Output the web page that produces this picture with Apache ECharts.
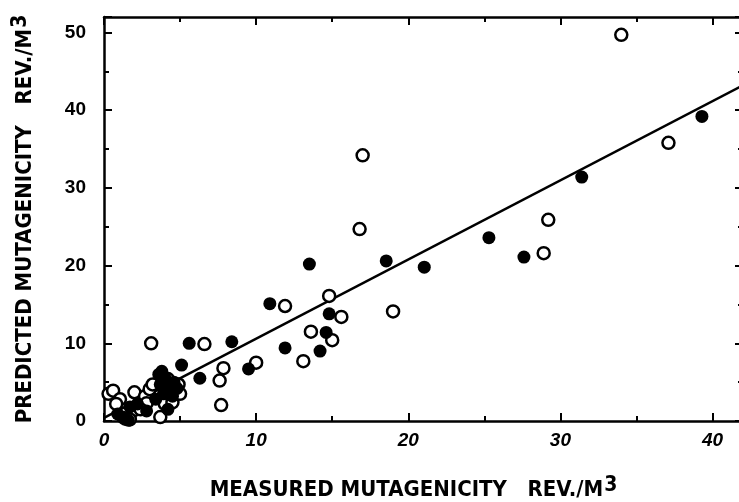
<!DOCTYPE html>
<html>
<head>
<meta charset="utf-8">
<script src="https://cdn.jsdelivr.net/npm/echarts@6/dist/echarts.min.js"></script>
<style>
html,body{margin:0;padding:0;background:#fff;}
#c{width:739px;height:502px;}
</style>
</head>
<body>
<div id="c"></div>
<script>
// Filled circles
var filledX = [39.3, 31.4, 25.3, 27.6, 21.05, 13.5, 18.55, 10.9, 14.8, 14.6, 8.4, 11.9, 14.2, 5.6, 5.1, 6.3, 9.5,
  0.9, 1.2, 1.6, 2.2, 3.6, 3.8, 4.0, 3.7, 3.9, 4.3, 3.4, 4.5, 4.2, 2.8, 1.7, 4.6, 4.8];
var filledY = [39.2, 31.4, 23.6, 21.1, 19.8, 20.2, 20.6, 15.1, 13.8, 11.4, 10.2, 9.4, 9.0, 10.0, 7.2, 5.5, 6.7,
  0.9, 0.5, 0.1, 2.2, 6.0, 6.4, 5.6, 4.7, 3.5, 4.4, 2.8, 3.2, 1.5, 1.3, 1.8, 5.0, 4.2];
// Open circles
var openX = [34.0, 37.1, 29.2, 28.9, 17.0, 16.8, 11.9, 14.8, 15.6, 19.0, 13.6, 15.0, 13.1, 6.6, 3.1, 7.85, 7.6, 7.7, 10.0,
  0.3, 0.6, 1.05, 0.8, 1.4, 1.9, 2.0, 2.7, 3.0, 3.2, 3.7, 4.0, 4.5, 4.7, 5.0, 4.2, 2.8, 2.4, 4.9, 1.7];
var openY = [49.7, 35.8, 25.9, 21.6, 34.2, 24.7, 14.8, 16.1, 13.4, 14.1, 11.5, 10.4, 7.7, 9.9, 10.0, 6.8, 5.2, 2.05, 7.5,
  3.5, 3.9, 2.8, 2.2, 0.3, 1.3, 3.7, 3.2, 4.1, 4.7, 0.5, 2.2, 2.4, 3.8, 3.5, 5.4, 2.3, 1.5, 4.7, 0.2];
// Regression line endpoints
var fitX = [0, 42];
var fitY = [0.4, 43.2];
var xTickLabels = [0, 10, 20, 30, 40];
var yTickLabels = [0, 10, 20, 30, 40, 50];

function pairs(xs, ys){ return xs.map(function(x,i){ return [x, ys[i]]; }); }

var chart = echarts.init(document.getElementById('c'), null, {renderer:'canvas'});
var lineStyle = {color:'#000', width:2.5};
var tickFont = 'Liberation Sans, Arial, sans-serif';
var titleFont = 'Liberation Sans Narrow, DejaVu Sans Condensed, Liberation Sans, sans-serif';
var titleRich = {
  t:{fontFamily:titleFont, fontSize:22, fontWeight:'bold', color:'#000', verticalAlign:'bottom', lineHeight:26},
  s:{fontFamily:titleFont, fontSize:21, fontWeight:'bold', color:'#000', verticalAlign:'top', lineHeight:26, padding:[0,0,10,1]}
};

function baseAxis(extra){
  var a = {
    type:'value', min:0, interval:10,
    axisLine:{show:true, onZero:false, lineStyle:lineStyle},
    axisTick:{show:true, inside:true, length:8, lineStyle:{color:'#000', width:2}},
    minorTick:{show:true, splitNumber:2, length:5, lineStyle:{color:'#000', width:2}},
    splitLine:{show:false}, minorSplitLine:{show:false}
  };
  for (var k in extra) a[k] = extra[k];
  return a;
}

chart.setOption({
  backgroundColor:'#fff',
  animation:false,
  grid:{left:104, right:-4, top:17, bottom:81, containLabel:false, outerBoundsMode:'none'},
  xAxis:[
    baseAxis({max:42, position:'bottom',
      axisLabel:{margin:10, fontStyle:'italic', fontFamily:tickFont, fontWeight:'bold', fontSize:19, color:'#000',
        formatter:function(v){ return xTickLabels.indexOf(v) >= 0 ? String(v) : ''; }},
      name:'{t|MEASURED MUTAGENICITY   REV./M}{s|3}', nameLocation:'middle', nameGap:54,
      nameTextStyle:{rich:titleRich, padding:[0,20,0,0]}
    }),
    baseAxis({max:42, position:'top', axisLabel:{show:false}})
  ],
  yAxis:[
    baseAxis({max:52, position:'left',
      axisLabel:{margin:18, fontFamily:tickFont, fontWeight:'bold', fontSize:19, color:'#000',
        formatter:function(v){ return yTickLabels.indexOf(v) >= 0 ? String(v) : ''; }},
      name:'{t|PREDICTED MUTAGENICITY   REV./M}{s|3}', nameLocation:'middle', nameGap:68,
      nameTextStyle:{rich:titleRich}
    }),
    baseAxis({max:52, position:'right', axisLabel:{show:false}})
  ],
  series:[
    {type:'line', data:pairs(fitX, fitY), symbol:'none', lineStyle:{color:'#000', width:2.5}, z:1},
    {type:'scatter', data:pairs(openX, openY), symbol:'circle', symbolSize:12,
      itemStyle:{color:'#fff', borderColor:'#000', borderWidth:2.5, opacity:1}, z:2},
    {type:'scatter', data:pairs(filledX, filledY), symbol:'circle', symbolSize:13,
      itemStyle:{color:'#000', borderColor:'#000', borderWidth:0, opacity:1}, z:3}
  ]
});
</script>
</body>
</html>
